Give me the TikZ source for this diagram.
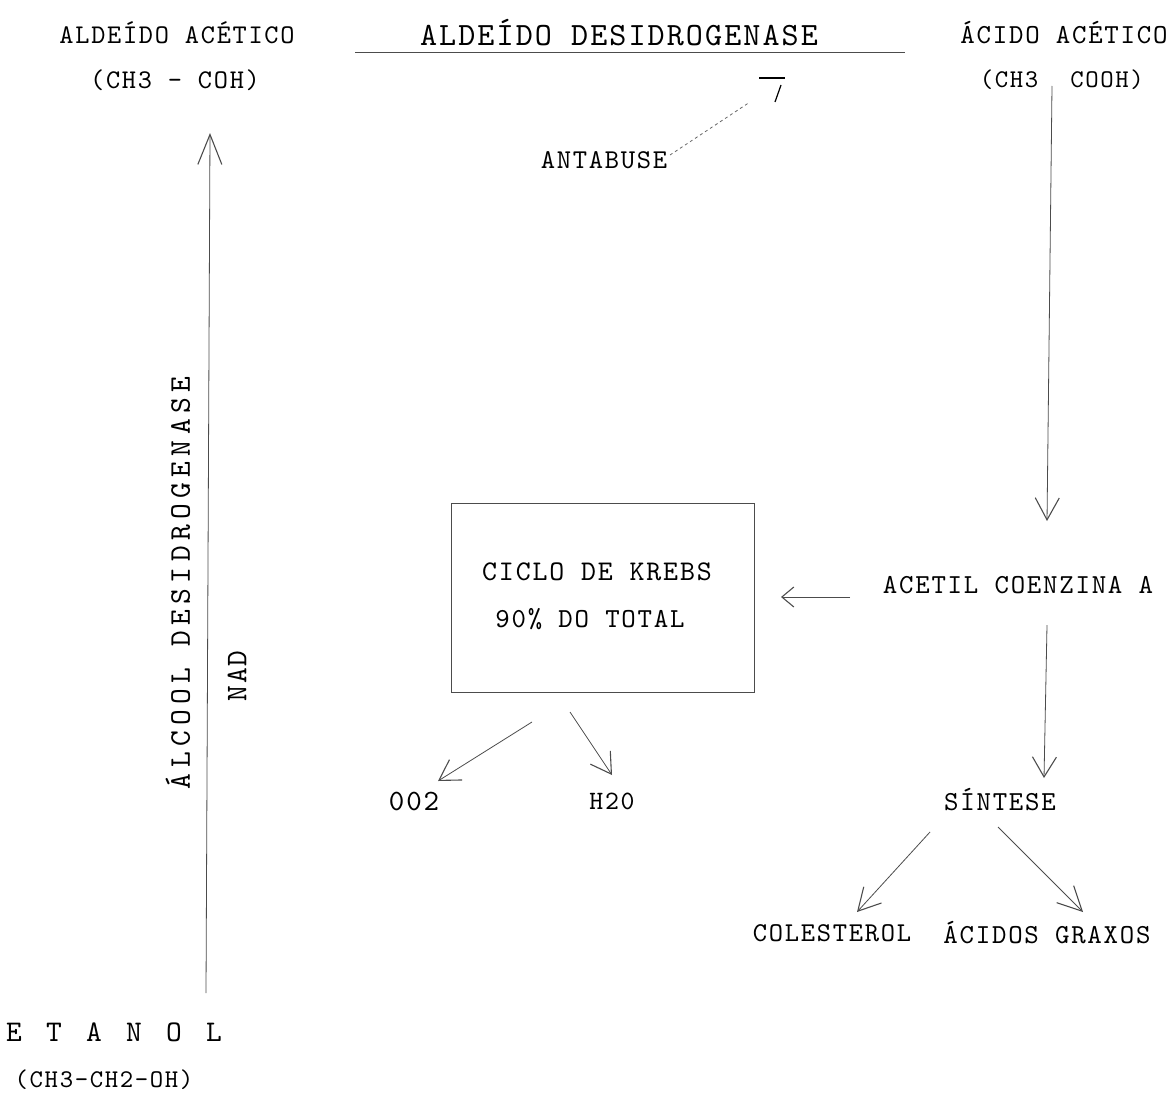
\documentclass[tikz,border=0pt]{standalone}
\usepackage{fontspec}
\setmonofont{lmmono10-regular.otf}
\usetikzlibrary{arrows.meta}
% Latin Modern Mono (serif typewriter), letter-spaced to typewriter pitch
\newcommand{\fsz}[1]{\fontsize{#1}{#1}\selectfont\addfontfeature{LetterSpace=6.4}}
\newcommand{\pitch}[1]{\makebox[40pt][l]{#1}}
\tikzset{
  lbl/.style={inner sep=0pt, font=\ttfamily, text=black},
  conn/.style={draw=black!70, line width=0.8pt},
  arr/.style={conn, -{Straight Barb[length=#1, width=24pt, line width=1.1pt]}},
  arr/.default=20pt,
  dots/.style={draw=black!60, line width=0.8pt, dash pattern=on 3pt off 3pt}
}
\begin{document}
\begin{tikzpicture}[x=1pt,y=-1pt]
\useasboundingbox (0,0) rectangle (1174,1097);
% texts
\node[lbl, font=\ttfamily\fsz{27}] (aldeido) at (177,33) {ALDEÍDO ACÉTICO};
\node[lbl, font=\ttfamily\fsz{27}] (formL) at (175,80) {(CH3 - COH)};
\node[lbl, font=\ttfamily\fsz{32.5}] (desid) at (619,33) {ALDEÍDO DESIDROGENASE};
\node[lbl, font=\ttfamily\fsz{27.5}] (acido) at (1064,33) {ÁCIDO ACÉTICO};
\node[lbl, font=\ttfamily\fsz{25.5}] (formRa) at (1009,80) {(CH3};
\node[lbl, font=\ttfamily\fsz{25.5}] (formRb) at (1107,80) {COOH)};
\node[lbl, font=\ttfamily\fsz{27.2}] (antab) at (604,160) {ANTABUSE};
\node[lbl, font=\ttfamily\fontsize{30}{30}\selectfont\addfontfeature{LetterSpace=18}, rotate=90] (alcool) at (178,583) {ÁLCOOL DESIDROGENASE};
\node[lbl, font=\ttfamily\fsz{30}, rotate=90] (nad) at (237,676) {NAD};
\node[lbl, font=\ttfamily\fontsize{30}{30}\selectfont, anchor=west] (etanol) at (6,1032) {\pitch{E}\pitch{T}\pitch{A}\pitch{N}\pitch{O}L};
\node[lbl, font=\ttfamily\fsz{25.5}] (formE) at (104,1080) {(CH3-CH2-OH)};
\node[conn, minimum width=303pt, minimum height=189pt, inner sep=0pt] (krebs) at (602.5,597.5) {};
\node[lbl, font=\ttfamily\fsz{28.5}] (krebs1) at (597,572) {CICLO DE KREBS};
\node[lbl, font=\ttfamily\fsz{27.5}] (krebs2) at (590,619) {90\% DO TOTAL};
\node[lbl, font=\ttfamily\fsz{27.5}] (acetil) at (1018,585) {ACETIL COENZINA A};
\node[lbl, font=\ttfamily\fsz{27.5}] (sintese) at (1000,800) {SÍNTESE};
\node[lbl, font=\ttfamily\fsz{27.2}] (colest) at (832,933) {COLESTEROL};
\node[lbl, font=\ttfamily\fsz{27.5}] (graxos) at (1047,933) {ÁCIDOS GRAXOS};
\node[lbl, font=\ttfamily\fsz{29.5}] (co2) at (414,801) {002};
\node[lbl, font=\ttfamily\fsz{26.5}] (h2o) at (612,801) {H20};
% connector end points
\coordinate (etTop) at (206,993);
\coordinate (alTip) at (210,133);
\coordinate (acStart) at (1052,86);
\coordinate (acTip) at (1047,521);
\coordinate (ctTop) at (1047,625);
\coordinate (ctTip) at (1044,778);
\coordinate (ctLeft) at (850,597);
\coordinate (kbTip) at (781,597);
\coordinate (kbA) at (532,722);
\coordinate (kbB) at (570,712);
\coordinate (coTip) at (438,781);
\coordinate (hoTip) at (612,775);
\coordinate (snA) at (930,832);
\coordinate (snB) at (998,827);
\coordinate (clTip) at (857,912);
\coordinate (gxTip) at (1083,912);
\coordinate (anStart) at (670,155);
\coordinate (anEnd) at (750,102);
\coordinate (inhA) at (759,78);
\coordinate (inhB) at (785,78);
\coordinate (inhC) at (781,85);
\coordinate (inhD) at (775,102);
\coordinate (ulA) at (355,52);
\coordinate (ulB) at (905,52);
% underline
\draw[conn] (ulA) -- (ulB);
% arrows
\draw[arr=30pt] (etTop) -- (alTip);
\draw[arr=22pt] (acStart) -- (acTip);
\draw[arr=20pt] (ctTop) -- (ctTip);
\draw[conn, -{Straight Barb[length=12pt, width=20pt, line width=1.1pt]}] (ctLeft) -- (kbTip);
\draw[arr=20pt] (kbA) -- (coTip);
\draw[arr=20pt] (kbB) -- (hoTip);
\draw[arr=22pt] (snA) -- (clTip);
\draw[arr=24pt] (snB) -- (gxTip);
% antabuse inhibition
\draw[dots] (anStart) -- (anEnd);
\draw[line width=1.4pt] (inhA) -- (inhB);
\draw[line width=1.2pt] (inhC) -- (inhD);
\end{tikzpicture}
\end{document}
